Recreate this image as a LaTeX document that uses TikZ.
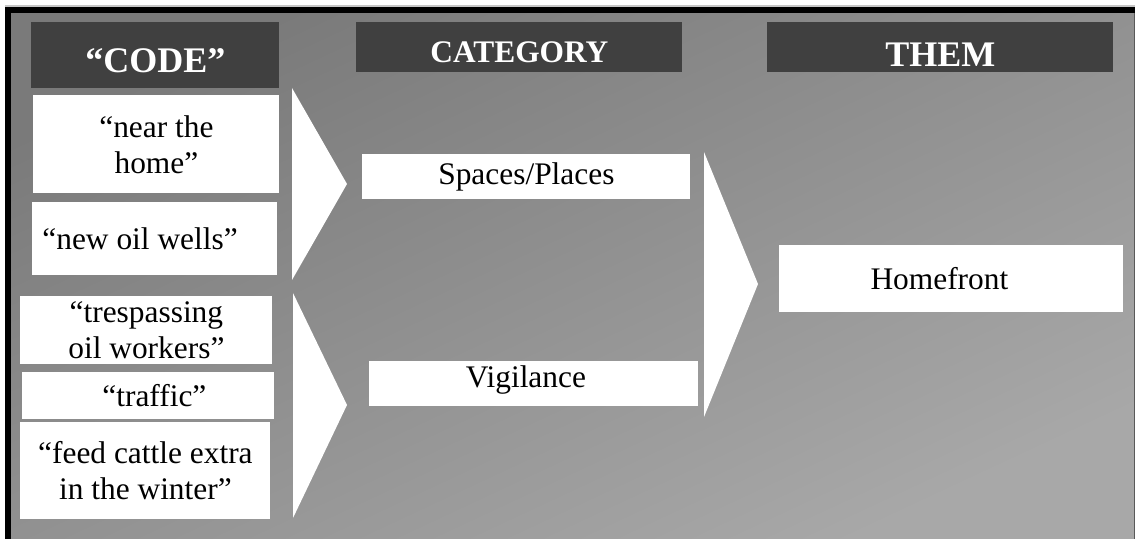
\documentclass[tikz,border=0pt]{standalone}
\usepackage{fontspec}
\setmainfont{Liberation Serif}
\definecolor{hdrgray}{HTML}{404040}
\definecolor{bgtop}{HTML}{7A7A7A}
\definecolor{bgbot}{HTML}{A8A8A8}
\tikzset{
  hdr/.style={fill=hdrgray, text=white, inner sep=0pt, anchor=north west,
    font=\bfseries\fontsize{18}{20}\selectfont},
  cell/.style={fill=white, text=black, inner sep=0pt, anchor=north west, align=center,
    font=\fontsize{15.7}{18}\selectfont},
  chev/.style={fill=white, draw=none}
}
\begin{document}
\begin{tikzpicture}[x=0.5pt, y=-0.5pt, line join=miter]
% === Canvas and frame ===
\useasboundingbox (0,0) rectangle (1135,539);
\fill[white] (0,0) rectangle (1135,539);
\shade[top color=bgtop, bottom color=bgbot, shading angle=25] (10,12) rectangle (1134,539);
\fill[gray!45] (5,5.5) rectangle (1135,7);
\fill[black] (5,7) rectangle (1135,13);
\fill[black] (5,7) rectangle (10.5,539);
\fill[gray!70!black] (1133.5,13) rectangle (1135,539);

% === Column headers ===
\node[hdr, minimum width=124pt, minimum height=33pt, text height=25pt, text depth=8pt] (code) at (31,22) {``CODE''};
\node[hdr, minimum width=163pt, minimum height=25pt, text height=20pt, text depth=5pt,
  font=\bfseries\fontsize{15.7}{18}\selectfont] (cat) at (356,22) {CATEGORY};
\node[hdr, minimum width=173pt, minimum height=25pt, text height=22pt, text depth=3pt] (them) at (767,22) {THEM};

% === Codes ===
\node[cell, minimum width=123pt, minimum height=49pt] (near) at (33,95) {``near the\\home''\hspace*{0pt}};
\node[cell, text width=112.5pt, inner xsep=5pt, minimum height=36.5pt, align=flush left] (wells) at (32,202) {``new oil wells''};
\node[cell, minimum width=126pt, minimum height=34pt] (tresp) at (20,296) {``trespassing\\oil workers''};
\node[cell, minimum width=126pt, minimum height=23.5pt] (traffic) at (22,372) {\hspace*{6pt}``traffic''};
\node[cell, minimum width=125pt, minimum height=48.5pt] (cattle) at (20,422) {``feed cattle extra\\in the winter''};

% === Categories and theme ===
\node[cell, minimum width=164pt, minimum height=22.5pt] (spaces) at (362,154) {Spaces/Places};
\node[cell, minimum width=164.5pt, minimum height=22.5pt, text height=13pt, text depth=9.5pt] (vigil) at (369,361) {Vigilance\hspace*{8pt}};
\node[cell, minimum width=172pt, minimum height=33.5pt] (home) at (779,245) {Homefront\hspace*{12pt}};

% === Chevrons ===
\fill[chev] (292,88) -- (347,184) -- (292,280) -- cycle;
\fill[chev] (293,293) -- (347,405) -- (293,518) -- cycle;
\fill[chev] (704,152) -- (758,284) -- (704,417) -- cycle;
\end{tikzpicture}
\end{document}
